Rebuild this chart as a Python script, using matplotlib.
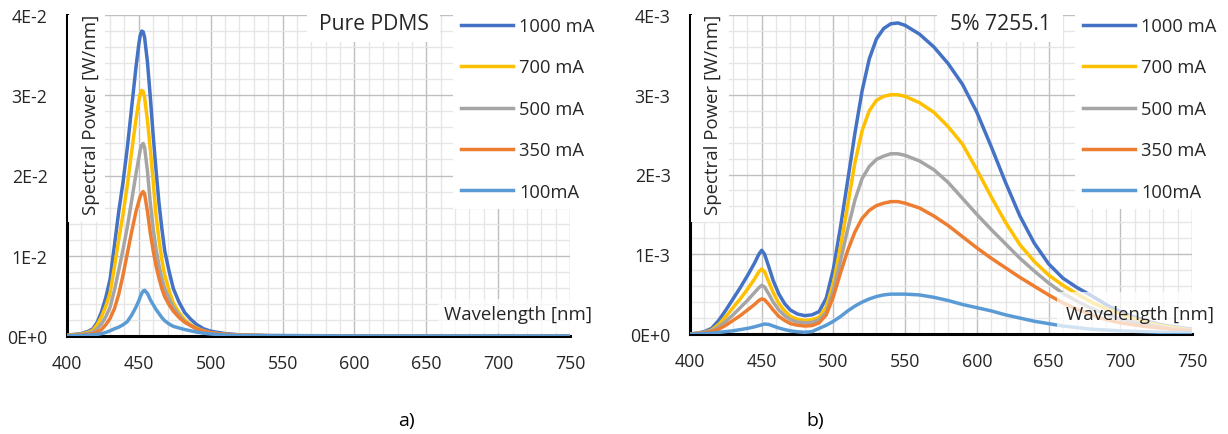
import numpy as np
import matplotlib
matplotlib.use("Agg")
import matplotlib.pyplot as plt
from matplotlib.patches import Rectangle
from matplotlib.lines import Line2D

plt.rcParams['font.family'] = ['Open Sans', 'DejaVu Sans']

# ---------------- data ----------------
series_labels = ["1000 mA", "700 mA", "500 mA", "350 mA", "100mA"]
series_colors = ["#4472C4", "#FFC000", "#A5A5A5", "#ED7D31", "#5B9BD5"]

# Panel a) Pure PDMS  (values in units of 1E-2 W/nm)
wl_a = [400, 410, 415, 418, 421, 424, 427, 430, 433, 436, 439, 442, 445, 448, 450, 451, 452, 453,
        454, 456, 458, 460, 462, 464, 466, 468, 471, 474, 478, 482, 486, 490, 495, 500, 510, 520,
        540, 600, 750]
a_1000 = [0.01, 0.03, 0.06, 0.09, 0.17, 0.30, 0.48, 0.71, 1.13, 1.55, 1.92, 2.35, 2.85, 3.35, 3.64,
          3.75, 3.80, 3.79, 3.72, 3.41, 2.97, 2.49, 2.06, 1.66, 1.34, 1.06, 0.81, 0.59, 0.42, 0.29,
          0.21, 0.145, 0.09, 0.06, 0.03, 0.015, 0.006, 0.002, 0.001]
a_700 = [0.008, 0.024, 0.048, 0.072, 0.14, 0.24, 0.37, 0.54, 0.86, 1.20, 1.52, 1.88, 2.30, 2.70,
         2.93, 3.02, 3.06, 3.05, 2.97, 2.68, 2.32, 1.92, 1.50, 1.20, 0.95, 0.76, 0.57, 0.41, 0.29,
         0.20, 0.14, 0.10, 0.065, 0.04, 0.02, 0.01, 0.004, 0.001, 0.001]
a_500 = [0.006, 0.019, 0.035, 0.05, 0.09, 0.15, 0.24, 0.36, 0.57, 0.82, 1.08, 1.36, 1.69, 2.02,
         2.22, 2.32, 2.38, 2.40, 2.35, 2.05, 1.65, 1.33, 1.08, 0.88, 0.72, 0.59, 0.47, 0.36, 0.26,
         0.18, 0.13, 0.09, 0.06, 0.04, 0.02, 0.01, 0.004, 0.001, 0.001]
a_350 = [0.005, 0.01, 0.02, 0.03, 0.05, 0.08, 0.14, 0.22, 0.34, 0.52, 0.76, 1.03, 1.30, 1.55, 1.68,
         1.74, 1.78, 1.80, 1.77, 1.55, 1.28, 1.06, 0.87, 0.72, 0.59, 0.49, 0.39, 0.31, 0.23, 0.17,
         0.13, 0.09, 0.06, 0.04, 0.02, 0.01, 0.004, 0.001, 0.001]
a_100 = [0.002, 0.005, 0.01, 0.015, 0.02, 0.03, 0.045, 0.065, 0.09, 0.11, 0.14, 0.18, 0.26, 0.36,
         0.44, 0.49, 0.53, 0.56, 0.57, 0.53, 0.45, 0.39, 0.33, 0.28, 0.23, 0.19, 0.15, 0.12, 0.10,
         0.08, 0.065, 0.05, 0.035, 0.025, 0.012, 0.006, 0.003, 0.001, 0.001]
scale_a = 1e-2

# Panel b) 5% 7255.1  (values in units of 1E-3 W/nm)
wl_b = [400, 405, 410, 415, 420, 425, 430, 435, 440, 445, 448, 450, 452, 455, 458, 462, 466, 470,
        475, 480, 485, 490, 495, 500, 505, 510, 515, 520, 525, 530, 535, 540, 545, 550, 560, 570,
        580, 590, 600, 610, 620, 630, 640, 650, 660, 670, 680, 690, 700, 715, 730, 750]
b_1000 = [0.00, 0.01, 0.03, 0.07, 0.17, 0.30, 0.44, 0.58, 0.73, 0.89, 1.00, 1.05, 1.00, 0.84, 0.67,
          0.50, 0.38, 0.30, 0.25, 0.23, 0.24, 0.28, 0.45, 0.82, 1.35, 1.93, 2.52, 3.05, 3.45, 3.70,
          3.83, 3.89, 3.90, 3.87, 3.76, 3.60, 3.39, 3.13, 2.78, 2.35, 1.90, 1.48, 1.14, 0.88, 0.70,
          0.58, 0.48, 0.37, 0.28, 0.18, 0.11, 0.06]
b_700 = [0.00, 0.01, 0.02, 0.05, 0.12, 0.22, 0.33, 0.44, 0.56, 0.69, 0.78, 0.815, 0.78, 0.65, 0.52,
         0.38, 0.29, 0.22, 0.185, 0.17, 0.18, 0.21, 0.34, 0.64, 1.10, 1.62, 2.15, 2.55, 2.80, 2.93,
         2.98, 3.00, 3.00, 2.98, 2.90, 2.78, 2.60, 2.38, 2.06, 1.72, 1.40, 1.12, 0.91, 0.74, 0.61,
         0.50, 0.40, 0.32, 0.25, 0.16, 0.10, 0.05]
b_500 = [0.00, 0.01, 0.02, 0.04, 0.09, 0.16, 0.24, 0.33, 0.42, 0.52, 0.58, 0.61, 0.59, 0.50, 0.40,
         0.30, 0.23, 0.18, 0.15, 0.14, 0.145, 0.18, 0.27, 0.55, 0.92, 1.32, 1.68, 1.95, 2.10, 2.19,
         2.23, 2.26, 2.26, 2.24, 2.17, 2.06, 1.90, 1.70, 1.50, 1.31, 1.13, 0.95, 0.79, 0.64, 0.51,
         0.41, 0.32, 0.25, 0.19, 0.13, 0.08, 0.04]
b_350 = [0.00, 0.005, 0.01, 0.03, 0.06, 0.11, 0.17, 0.23, 0.30, 0.37, 0.42, 0.44, 0.43, 0.37, 0.30,
         0.22, 0.17, 0.13, 0.11, 0.10, 0.105, 0.14, 0.24, 0.47, 0.77, 1.05, 1.28, 1.45, 1.55, 1.61,
         1.64, 1.66, 1.66, 1.64, 1.58, 1.48, 1.36, 1.22, 1.08, 0.95, 0.83, 0.71, 0.60, 0.49, 0.39,
         0.31, 0.24, 0.18, 0.14, 0.10, 0.07, 0.04]
b_100 = [0.00, 0.00, 0.005, 0.01, 0.02, 0.03, 0.04, 0.055, 0.07, 0.09, 0.105, 0.115, 0.125, 0.12,
         0.10, 0.075, 0.055, 0.04, 0.028, 0.022, 0.03, 0.07, 0.11, 0.16, 0.22, 0.29, 0.35, 0.40,
         0.44, 0.47, 0.49, 0.50, 0.50, 0.50, 0.49, 0.46, 0.42, 0.37, 0.33, 0.29, 0.24, 0.20, 0.16,
         0.13, 0.10, 0.08, 0.06, 0.05, 0.04, 0.03, 0.02, 0.02]
scale_b = 1e-3

x_ticks = [400, 450, 500, 550, 600, 650, 700, 750]
y_ticks_a = [0, 0.01, 0.02, 0.03, 0.04]
y_ticklabels_a = ["0E+0", "1E-2", "2E-2", "3E-2", "4E-2"]
y_ticks_b = [0, 0.001, 0.002, 0.003, 0.004]
y_ticklabels_b = ["0E+0", "1E-3", "2E-3", "3E-3", "4E-3"]

titles = ["Pure PDMS", "5% 7255.1"]
panel_tags = ["a)", "b)"]
ylabel = "Spectral Power [W/nm]"
xlabel = "Wavelength [nm]"

# ---------------- figure ----------------
W, H = 1228, 435
fig = plt.figure(figsize=(W / 100, H / 100), dpi=100)

def fx(px):
    return px / W

def fy(py):
    return 1 - py / H

FS_TICK = 12.8
FS_LEG = 13.2
FS_AXT = 13.4
FS_TITLE = 15.2
TXT = "#262626"

def frect(x0, y0, x1, y1, alpha=1.0):
    r = Rectangle((fx(x0), fy(y1)), fx(x1) - fx(x0), fy(y0) - fy(y1),
                  transform=fig.transFigure, facecolor="white", edgecolor="none",
                  alpha=alpha, zorder=2)
    fig.add_artist(r)

panels = [
    dict(rect=(67, 16, 570, 337), wl=wl_a, data=[a_1000, a_700, a_500, a_350, a_100], scale=scale_a,
         yt=y_ticks_a, ytl=y_ticklabels_a, ymax=0.04, ystep=0.002,
         title_box=(307, 0, 440, 43), title_xy=(374, 25),
         legend_box=(453, 0, 610, 210), legend_xy=(461, 18),
         ylab_box=(68, 16, 105, 223), ylab_xy=(91.5, 115),
         xlab_box=(438, 300, 600, 334), xlab_xy=(518, 315), tag_xy=(406, 421)),
    dict(rect=(690, 16, 1192, 335), wl=wl_b, data=[b_1000, b_700, b_500, b_350, b_100], scale=scale_b,
         yt=y_ticks_b, ytl=y_ticklabels_b, ymax=0.004, ystep=0.0002,
         title_box=(937, 0, 1063, 43), title_xy=(1000, 25),
         legend_box=(1075, 0, 1228, 210), legend_xy=(1083, 18),
         ylab_box=(691, 16, 729, 223), ylab_xy=(713.5, 115),
         xlab_box=(1057, 293, 1220, 334), xlab_xy=(1140, 315), tag_xy=(815, 421)),
]

for k, p in enumerate(panels):
    x0, y0, x1, y1 = p["rect"]
    ax = fig.add_axes([fx(x0), fy(y1), fx(x1) - fx(x0), fy(y0) - fy(y1)])
    ax.set_xlim(400, 750)
    ax.set_ylim(0, p["ymax"])
    handles = []
    for vals, lab, col in zip(p["data"], series_labels, series_colors):
        ax.plot(p["wl"], np.array(vals) * p["scale"], color=col, lw=2.5,
                solid_joinstyle="round", solid_capstyle="butt", label=lab, zorder=3)
        handles.append(Line2D([], [], color=col, lw=2.5))
    ax.set_xticks(x_ticks)
    ax.set_xticks(np.arange(400, 751, 10), minor=True)
    ax.set_yticks(p["yt"])
    ax.set_yticklabels(p["ytl"])
    ax.set_yticks(np.arange(0, p["ymax"] + 1e-12, p["ystep"]), minor=True)
    ax.grid(which="minor", color="#E6E6E6", lw=1.0)
    ax.grid(which="major", color="#BFBFBF", lw=1.0)
    ax.set_axisbelow(True)
    ax.tick_params(which="both", length=0, labelsize=FS_TICK, colors=TXT)
    ax.tick_params(axis="x", pad=13)
    ax.tick_params(axis="y", pad=14)
    for s in ["top", "right"]:
        ax.spines[s].set_visible(False)
    for s in ["left", "bottom"]:
        ax.spines[s].set_color("black")
        ax.spines[s].set_linewidth(2.2)
        ax.spines[s].set_zorder(2.5)

    # white backgrounds of the in-plot text boxes
    frect(*p["title_box"])
    frect(*p["legend_box"])
    frect(*p["ylab_box"])
    frect(*p["xlab_box"], alpha=0.72)

    fig.text(fx(p["title_xy"][0]), fy(p["title_xy"][1]), titles[k], ha="center", va="center",
             fontsize=FS_TITLE, color=TXT, zorder=4)
    fig.text(fx(p["ylab_xy"][0]), fy(p["ylab_xy"][1]), ylabel, rotation=90, ha="center",
             va="center", fontsize=FS_AXT, color=TXT, zorder=4)
    fig.text(fx(p["xlab_xy"][0]), fy(p["xlab_xy"][1]), xlabel, ha="center", va="center",
             fontsize=FS_AXT, color=TXT, zorder=4)
    fig.text(fx(p["tag_xy"][0]), fy(p["tag_xy"][1]), panel_tags[k], ha="center", va="center",
             fontsize=14, color="black", zorder=4)

    leg = fig.legend(handles, series_labels, loc="upper left",
                     bbox_to_anchor=(fx(p["legend_xy"][0]), fy(p["legend_xy"][1])),
                     bbox_transform=fig.transFigure, frameon=False, fontsize=FS_LEG,
                     handlelength=2.85, handletextpad=0.33, labelspacing=1.28,
                     borderpad=0, borderaxespad=0)
    for t in leg.get_texts():
        t.set_color(TXT)

fig.savefig("out.png", dpi=100)
